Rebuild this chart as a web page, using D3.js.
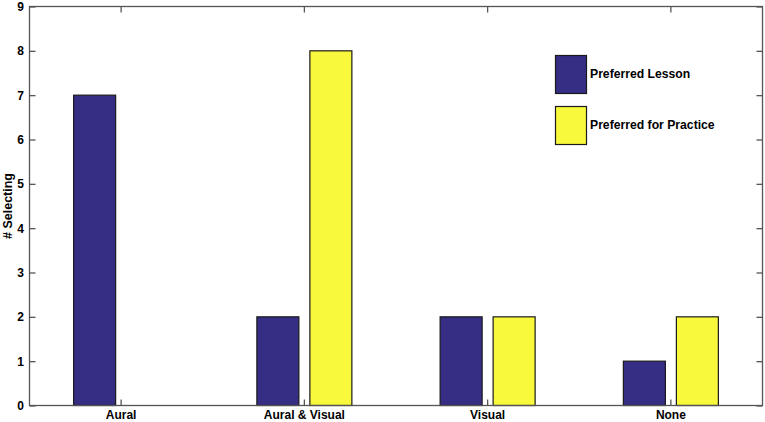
<!DOCTYPE html>
<html><head><meta charset="utf-8">
<script src="https://cdn.jsdelivr.net/npm/d3@7"></script>
<style>body{margin:0;background:#fff}svg{display:block}text{font-family:"Liberation Sans",Arial,sans-serif;font-weight:bold;fill:#000}</style>
</head><body>
<script>
const categories = ["Aural", "Aural & Visual", "Visual", "None"];
const seriesNames = ["Preferred Lesson", "Preferred for Practice"];
const lessonValues = [7, 2, 2, 1];
const practiceValues = [0, 8, 2, 2];
const yTicks = [0,1,2,3,4,5,6,7,8,9];
const colors = ["#362d85", "#f8f83c"];

const W = 765, H = 422;
const m = {left: 29.5, right: 2.5, top: 6.5, bottom: 16.5};
const svg = d3.select("body").append("svg").attr("width", W).attr("height", H);
const x = d3.scaleBand().domain(categories).range([m.left, W - m.right]).padding(0);
const y = d3.scaleLinear().domain([0, 9]).range([H - m.bottom, m.top]);
const cx = c => x(c) + x.bandwidth() / 2;
const barW = 42, off = 5.5;

const g = svg.append("g");
const series = [lessonValues, practiceValues];
series.forEach((vals, si) => {
  g.selectAll(".b" + si).data(categories.map((c, i) => ({c, v: vals[i]})).filter(d => d.v > 0))
    .enter().append("rect")
    .attr("x", d => si === 0 ? cx(d.c) - off - barW : cx(d.c) + off)
    .attr("y", d => y(d.v))
    .attr("width", barW)
    .attr("height", d => y(0) - y(d.v))
    .attr("fill", colors[si])
    .attr("stroke", "#1a1a1a").attr("stroke-width", 1.2);
});

// frame
const axColor = "#555";
svg.append("rect").attr("x", m.left).attr("y", m.top)
  .attr("width", W - m.left - m.right).attr("height", H - m.top - m.bottom)
  .attr("fill", "none").attr("stroke", axColor).attr("stroke-width", 1.3);

// axes
const yl = svg.append("g").attr("transform", `translate(${m.left},0)`)
  .call(d3.axisLeft(y).tickValues(yTicks).tickFormat(d3.format("d")).tickSize(-6).tickPadding(5.5));
const yr = svg.append("g").attr("transform", `translate(${W - m.right},0)`)
  .call(d3.axisRight(y).tickValues(yTicks).tickFormat("").tickSize(-6));
const xb = svg.append("g").attr("transform", `translate(0,${H - m.bottom})`)
  .call(d3.axisBottom(x).tickSize(-6).tickPadding(4.5));
const xt = svg.append("g").attr("transform", `translate(0,${m.top})`)
  .call(d3.axisTop(x).tickSize(-6).tickFormat(""));
[yl, yr, xb, xt].forEach(a => {
  a.select(".domain").remove();
  a.selectAll("line").attr("stroke", axColor).attr("stroke-width", 1.3);
  a.selectAll("text").style("font-size", "12px").style("font-weight", "bold").attr("fill", "#000");
});
xb.selectAll("text").attr("dy", "0.71em");

svg.append("text").attr("transform", `translate(12,${(m.top + H - m.bottom) / 2}) rotate(-90)`)
  .attr("text-anchor", "middle").style("font-size", "12.5px").text("# Selecting");

// legend
const leg = svg.append("g");
seriesNames.forEach((n, i) => {
  leg.append("rect").attr("x", 555.5).attr("y", 55.5 + i * 51).attr("width", 31).attr("height", 38)
    .attr("fill", colors[i]).attr("stroke", "#1a1a1a").attr("stroke-width", 1.2);
  leg.append("text").attr("x", 590).attr("y", 78 + i * 51).style("font-size", "12.2px").text(n);
});
</script>
</body></html>
